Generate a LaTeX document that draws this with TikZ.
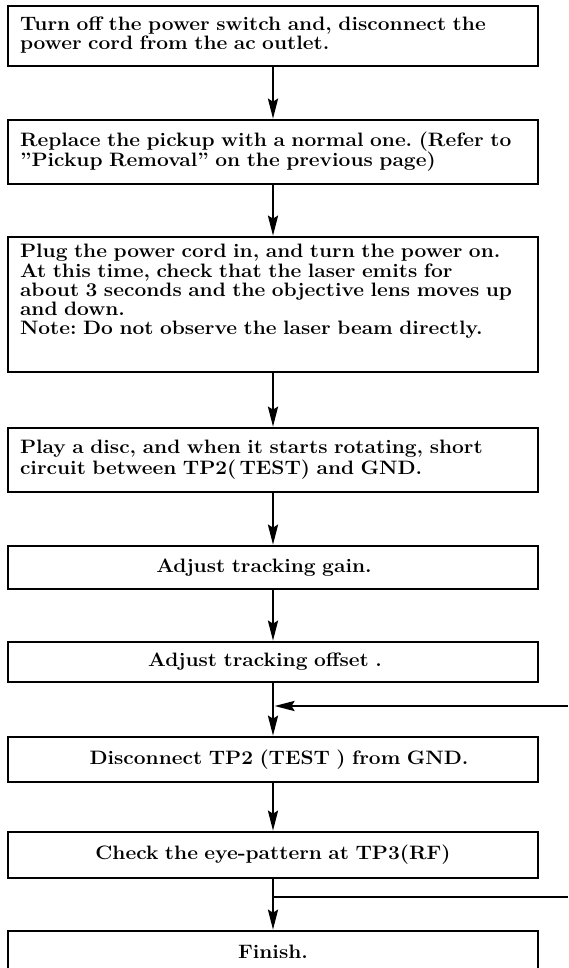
\documentclass[tikz,border=0pt]{standalone}
\usepackage{fontspec}
\setmainfont{Latin Modern Roman}[FakeStretch=1.08]
\usetikzlibrary{arrows.meta}
\newcommand{\boxlines}[1]{\begin{tabular}{@{}l@{}}#1\end{tabular}}
\begin{document}
\frenchspacing
\begin{tikzpicture}[x=1pt,y=-1pt,
  every node/.style={font=\fontsize{19.4}{19}\selectfont\bfseries},
  stepbox/.style={draw,line width=2.6pt,minimum width=530pt,inner xsep=12pt,inner ysep=0pt,
     text width=506pt,align=left},
  centerbox/.style={draw,line width=2.6pt,minimum width=530pt,inner xsep=5pt,inner ysep=0pt,
     text width=520pt,align=center},
  flow/.style={line width=2.6pt,-{Stealth[length=20pt,width=10pt,inset=3pt]}},
  plain/.style={line width=2.6pt}]
\clip (0,0) rectangle (568,968);
\node[stepbox,minimum height=60pt] (b1) at (273,36)
  {\boxlines{Turn off the power switch and, disconnect the\\power cord from the ac outlet.}};
\node[stepbox,minimum height=64pt] (b2) at (273,152)
  {\boxlines{Replace the pickup with a normal one. (Refer to\\''Pickup Removal'' on the previous page)}};
\node[stepbox,minimum height=135pt] (b3) at (273,304.5)
  {\boxlines{Plug the power cord in, and turn the power on.\\At this time, check that the laser emits for\\about 3 seconds and the objective lens moves up\\and down.\\Note: Do not observe the laser beam directly.\\[24pt]}};
\node[stepbox,minimum height=64pt] (b4) at (273,460)
  {\boxlines{Play a disc, and when it starts rotating, short\\circuit between TP2(\,TEST) and GND.}};
\node[centerbox,minimum height=43pt] (b5) at (273,567.5) {\hspace*{-18pt}Adjust tracking gain.};
\node[centerbox,minimum height=40pt] (b6) at (273,662) {\hspace*{-16pt}Adjust tracking offset .};
\node[centerbox,minimum height=45pt] (b7) at (273,759.5) {\hspace*{12pt}Disconnect TP2 (TEST ) from GND.};
\node[centerbox,minimum height=46pt] (b8) at (273,855) {Check the eye-pattern at TP3(RF)};
\node[centerbox,minimum height=46pt] (b9) at (273,954) {\raisebox{5pt}{Finish.}};
\coordinate (r1) at (568,706);
\coordinate (j1) at (274.5,706);
\coordinate (j2) at (273,897);
\coordinate (r2) at (568,897);
\draw[flow] (b1.south) -- (b2.north);
\draw[flow] (b2.south) -- (b3.north);
\draw[flow] (b3.south) -- (b4.north);
\draw[flow] (b4.south) -- (b5.north);
\draw[flow] (b5.south) -- (b6.north);
\draw[flow] (b6.south) -- (b7.north);
\draw[flow] (b7.south) -- (b8.north);
\draw[flow] (b8.south) -- (b9.north);
\draw[flow] (r1) -- (j1);
\draw[plain] (j2) -- (r2);
\end{tikzpicture}
\end{document}
